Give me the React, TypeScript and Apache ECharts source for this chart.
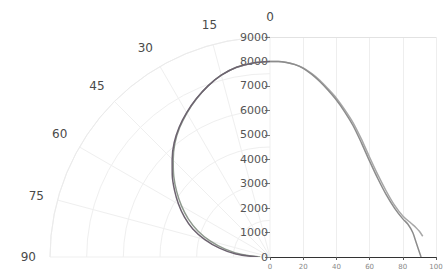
import React, { useEffect, useRef } from "react";
import * as echarts from "echarts";

// Polar part: angle (deg) and intensity
const polarAngles = [0, 5, 10, 15, 20, 25, 30, 35, 40, 45, 50, 55, 60, 65, 70, 75, 80, 85, 90];
const polarA = [8000, 7970, 7880, 7700, 7440, 7140, 6820, 6480, 6100, 5660, 5220, 4770, 4320, 3860, 3360, 2760, 2100, 1400, 500];
const polarB = [8000, 7970, 7880, 7700, 7440, 7130, 6800, 6450, 6060, 5600, 5140, 4660, 4180, 3690, 3150, 2540, 1860, 1150, 400];

// Cartesian part
const cartXA = [0, 5, 10, 15, 20, 25, 30, 35, 40, 45, 50, 55, 60, 65, 70, 75, 80, 83, 86, 88, 91];
const cartYA = [8000, 8000, 7960, 7870, 7720, 7480, 7180, 6820, 6420, 5940, 5380, 4680, 3920, 3200, 2550, 2000, 1560, 1350, 1000, 600, 0];
const cartXB = [0, 5, 10, 15, 20, 25, 30, 35, 40, 45, 50, 55, 60, 65, 70, 75, 80, 85, 88, 90, 92];
const cartYB = [8000, 8000, 7960, 7880, 7740, 7510, 7230, 6880, 6500, 6030, 5500, 4830, 4080, 3360, 2700, 2120, 1680, 1380, 1200, 1050, 850];

const angleTicks = { min: 0, max: 90, interval: 15 };
const yTicks = { min: 0, max: 9000, interval: 1000 };
const xTicks = { min: 0, max: 100, interval: 20 };

export default function App() {
  const ref = useRef<HTMLDivElement>(null);
  useEffect(() => {
    document.body.style.margin = "0";
    const chart = echarts.init(ref.current!, undefined, { renderer: "svg" });
    const toPolar = (r: number[]) => r.map((v, i) => [v, polarAngles[i]]);
    const toXY = (xs: number[], ys: number[]) => xs.map((x, i) => [x, ys[i]]);
    chart.setOption({
      animation: false,
      backgroundColor: "#ffffff",
      textStyle: { fontFamily: "DejaVu Sans" },
      polar: { center: [270, 257], radius: [0, 220] },
      angleAxis: {
        type: "value",
        min: angleTicks.min,
        max: angleTicks.max,
        interval: angleTicks.interval,
        startAngle: 90,
        endAngle: 180,
        clockwise: false,
        axisLine: { show: true, lineStyle: { color: "#ebebeb" } },
        axisTick: { show: false },
        axisLabel: { color: "#4a4a4a", fontSize: 12, margin: 14 },
        splitLine: { show: true, lineStyle: { color: "#efefef" } },
      },
      radiusAxis: {
        type: "value",
        min: 0,
        max: 9000,
        interval: 1500,
        axisLine: { show: false },
        axisTick: { show: false },
        axisLabel: { show: false },
        splitLine: { show: true, lineStyle: { color: "#efefef" } },
      },
      grid: { left: 270, top: 37, width: 166, height: 220 },
      xAxis: {
        type: "value",
        min: xTicks.min,
        max: xTicks.max,
        interval: xTicks.interval,
        axisLine: { show: true, lineStyle: { color: "#333", width: 1 } },
        axisTick: { show: true, length: 3, lineStyle: { color: "#555" } },
        axisLabel: { color: "#888", fontSize: 7, margin: 6 },
        splitLine: { show: true, showMinLine: false, lineStyle: { color: "#eeeeee" } },
      },
      yAxis: {
        type: "value",
        min: yTicks.min,
        max: yTicks.max,
        interval: yTicks.interval,
        axisLine: { show: false },
        axisTick: { show: true, length: 5, lineStyle: { color: "#777" } },
        axisLabel: { color: "#555", fontSize: 11, margin: 2, formatter: (v: number) => String(v) },
        splitLine: { show: false },
      },
      series: [
        {
          type: "line",
          coordinateSystem: "polar",
          data: toPolar(polarB),
          smooth: 0.3,
          symbol: "none",
          lineStyle: { color: "#8f9a8f", width: 1.5 },
          z: 2,
        },
        {
          type: "line",
          coordinateSystem: "polar",
          data: toPolar(polarA),
          smooth: 0.3,
          symbol: "none",
          lineStyle: { color: "#6d6370", width: 1.5 },
          z: 3,
        },
        {
          type: "line",
          data: toXY(cartXB, cartYB),
          smooth: 0.3,
          symbol: "none",
          lineStyle: { color: "#a8a8a8", width: 1.5 },
          z: 2,
          markLine: {
            silent: true,
            symbol: "none",
            label: { show: false },
            lineStyle: { color: "#e2e2e2", type: "solid", width: 1 },
            data: [{ yAxis: 9000 }],
          },
        },
        {
          type: "line",
          data: toXY(cartXA, cartYA),
          smooth: 0.3,
          symbol: "none",
          lineStyle: { color: "#8c8c8c", width: 1.5 },
          z: 3,
        },
      ],
    });
    return () => chart.dispose();
  }, []);
  return <div ref={ref} style={{ width: 446, height: 279 }} />;
}
